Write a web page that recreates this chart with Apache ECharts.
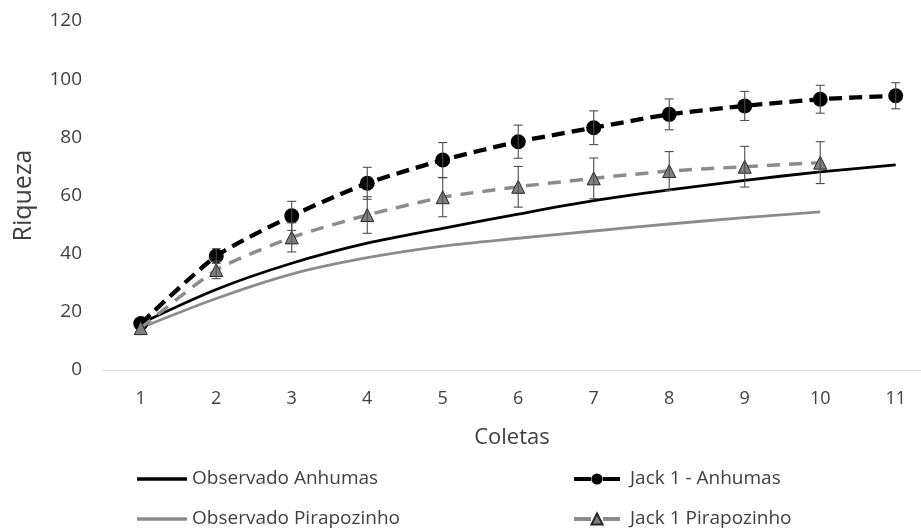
<!DOCTYPE html>
<html><head><meta charset="utf-8">
<script src="https://cdn.jsdelivr.net/npm/echarts@6/dist/echarts.min.js"></script>
<style>html,body{margin:0;padding:0;background:#fff}#c{width:921px;height:530px}</style>
</head><body><div id="c"></div>
<script>
const categories = [1, 2, 3, 4, 5, 6, 7, 8, 9, 10, 11];
const obsAnhumas = [16, 27.7, 36.7, 43.6, 48.7, 53.6, 58.2, 61.9, 65.2, 68.1, 70.5];
const obsPirapozinho = [14.5, 24.6, 33.0, 38.6, 42.6, 45.3, 47.8, 50.2, 52.4, 54.4];
const jackAnhumas = [16, 39.2, 53, 64.2, 72.2, 78.5, 83.3, 87.9, 90.8, 93.1, 94.3];
const jackAnhumasErr = [0, 2.5, 5, 5.5, 6, 5.7, 5.8, 5.3, 5, 4.8, 4.5];
const jackPirapozinho = [14.4, 34.4, 45.6, 53.3, 59.4, 63, 65.9, 68.4, 69.9, 71.3];
const jackPirapozinhoErr = [0, 3, 5, 6.3, 6.7, 7, 7, 6.7, 7, 7.2];

function pairs(vals){ return vals.map((v,i)=>[categories[i], v]); }
function errData(vals, errs){
  return vals.map((v,i)=>[categories[i], v-errs[i], v+errs[i]]).filter((d,i)=>errs[i]>0);
}
function errSeries(vals, errs, color, z){
  return {
    type:'custom', z:z, silent:true,
    data: errData(vals, errs),
    renderItem: function(params, api){
      const x = api.value(0);
      const lo = api.coord([x, api.value(1)]);
      const hi = api.coord([x, api.value(2)]);
      const w = 4.5;
      const st = {stroke: color, lineWidth: 1.1};
      return {type:'group', children:[
        {type:'line', shape:{x1:lo[0], y1:lo[1], x2:hi[0], y2:hi[1]}, style:st},
        {type:'line', shape:{x1:lo[0]-w, y1:lo[1], x2:lo[0]+w, y2:lo[1]}, style:st},
        {type:'line', shape:{x1:hi[0]-w, y1:hi[1], x2:hi[0]+w, y2:hi[1]}, style:st}
      ]};
    }
  };
}
const font = '"Open Sans", "Noto Sans", sans-serif';
const txt = '#404040';
const chart = echarts.init(document.getElementById('c'), null, {renderer:'canvas'});
chart.setOption({
  animation:false,
  textStyle:{fontFamily:font},
  grid:{left:103, right:0, top:21, bottom:160, containLabel:false},
  xAxis:{
    type:'value', min:0.5, max:11.335,
    name:'Coletas', nameLocation:'middle', nameGap:57,
    nameTextStyle:{fontSize:22, color:txt, fontFamily:font},
    axisLine:{show:true, onZero:false, lineStyle:{color:'#d9d9d9', width:1}},
    axisTick:{show:false},
    splitLine:{show:false},
    axisLabel:{fontSize:18, color:txt, margin:20, fontFamily:font,
      customValues: categories, showMinLabel:true, showMaxLabel:true}
  },
  yAxis:{
    type:'value', min:0, max:120, interval:20,
    name:'Riqueza', nameLocation:'middle', nameGap:67,
    nameTextStyle:{fontSize:25, color:txt, fontFamily:font},
    axisLine:{show:false}, axisTick:{show:false}, splitLine:{show:false},
    axisLabel:{fontSize:19, color:txt, margin:21, fontFamily:font}
  },
  legend:[
    {orient:'vertical', left:137, top:469, height:62, itemGap:20, itemWidth:50, itemHeight:3.5, padding:0,
     icon:'rect',
     textStyle:{fontSize:19, lineHeight:20, color:txt, fontFamily:font},
     data:['Observado Anhumas','Observado Pirapozinho']},
    {orient:'vertical', left:572, top:469, height:62, itemGap:20, itemWidth:46, itemHeight:14, padding:0,
     lineStyle:{width:4, type:[17,12]},
     textStyle:{fontSize:19, lineHeight:20, color:txt, fontFamily:font, padding:[0,0,0,5]},
     data:['Jack 1 - Anhumas','Jack 1 Pirapozinho']}
  ],
  series:[
    {name:'Observado Pirapozinho', type:'line', data:pairs(obsPirapozinho), smooth:0.3, symbol:'none',
     lineStyle:{color:'#8c8c8c', width:2.8}, itemStyle:{color:'#8c8c8c'}, z:2},
    {name:'Observado Anhumas', type:'line', data:pairs(obsAnhumas), smooth:0.3, symbol:'none',
     lineStyle:{color:'#000000', width:2.8}, itemStyle:{color:'#000000'}, z:3},
    {name:'Jack 1 - Anhumas', type:'line', data:pairs(jackAnhumas), smooth:0.2, symbol:'circle', symbolSize:15,
     lineStyle:{color:'#000000', width:4.3, type:[13,7]}, itemStyle:{color:'#000000'}, z:4},
    errSeries(jackAnhumas, jackAnhumasErr, '#4d4d4d', 5),
    {name:'Jack 1 Pirapozinho', type:'line', data:pairs(jackPirapozinho), smooth:0.2, symbol:'triangle', symbolSize:13,
     lineStyle:{color:'#8c8c8c', width:3.5, type:[13,9]},
     itemStyle:{color:'#7f7f7f', borderColor:'#262626', borderWidth:1}, z:6},
    errSeries(jackPirapozinho, jackPirapozinhoErr, '#4d4d4d', 7)
  ]
});
</script></body></html>
